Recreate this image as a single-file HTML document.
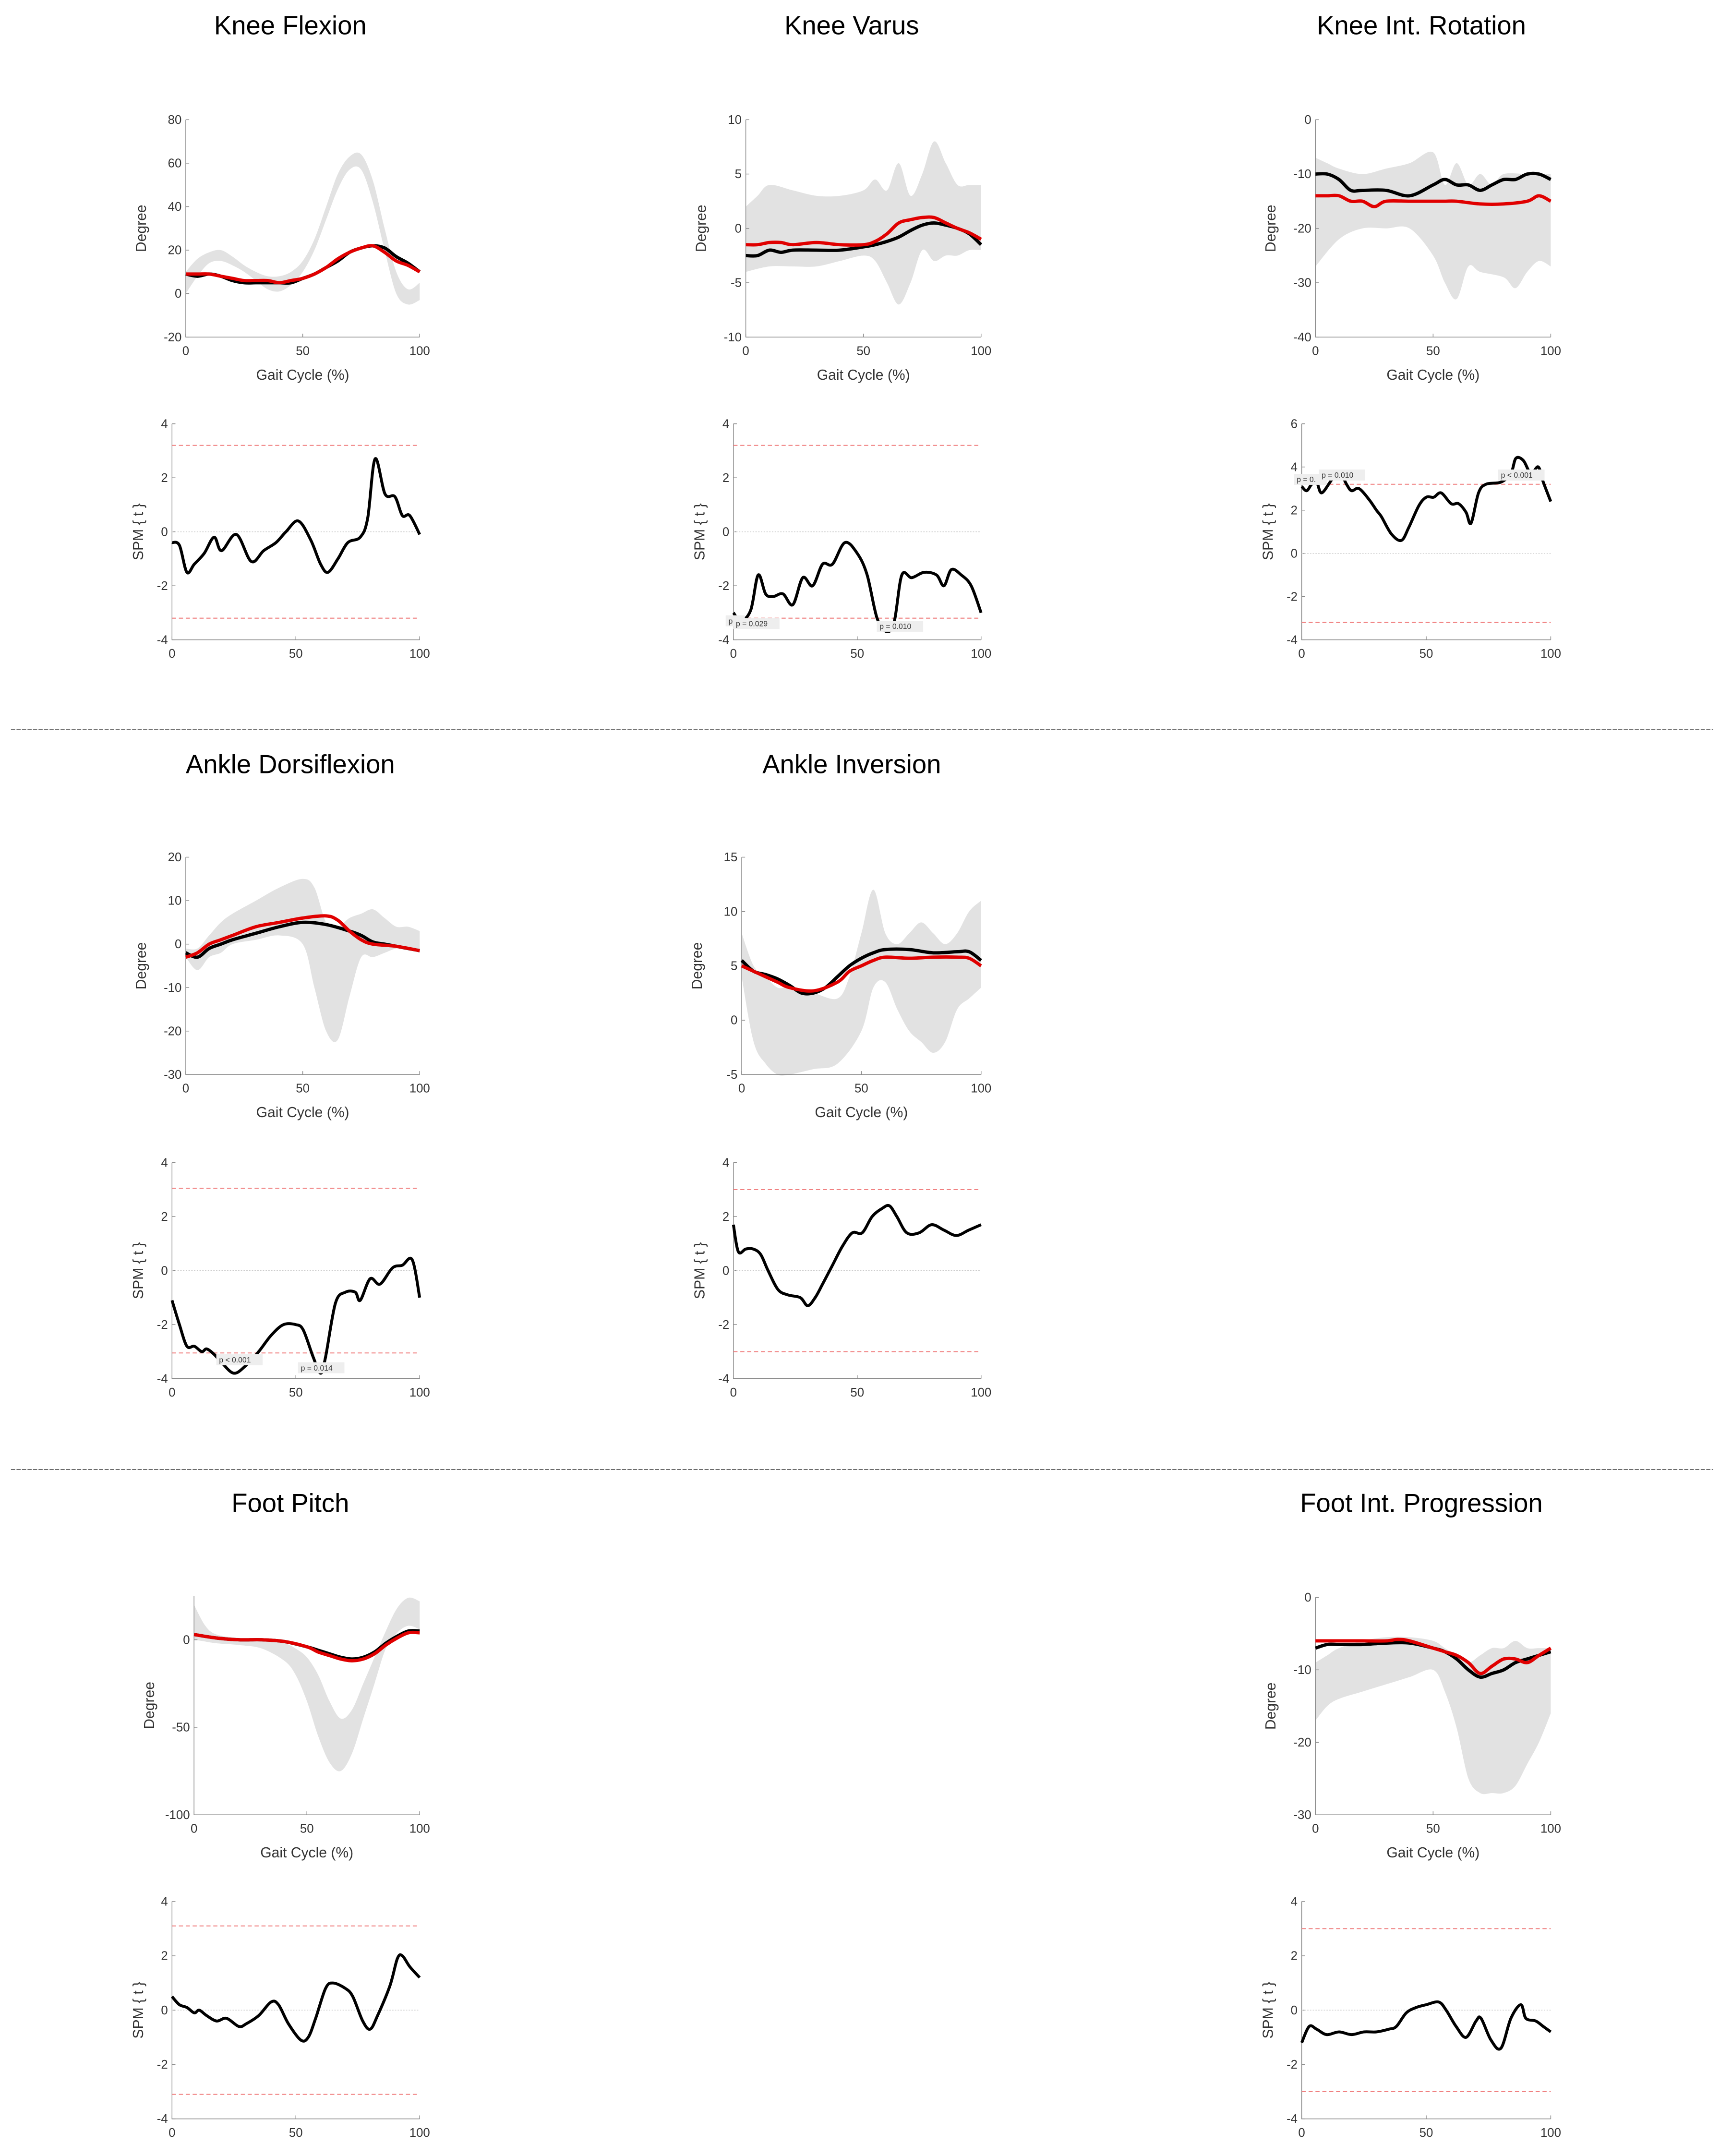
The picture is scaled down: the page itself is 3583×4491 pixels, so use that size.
<!DOCTYPE html>
<html><head><meta charset="utf-8"><style>
html,body{margin:0;padding:0;background:#fff;}
svg{display:block;font-family:"Liberation Sans",sans-serif;}
</style></head><body>
<svg id="fig" width="3583" height="4491" viewBox="0 0 1250 1567" preserveAspectRatio="none" xmlns="http://www.w3.org/2000/svg">
<line x1="8" y1="530" x2="1245" y2="530" stroke="#555" stroke-width="0.6" stroke-dasharray="3,1"/>
<line x1="8" y1="1068" x2="1245" y2="1068" stroke="#555" stroke-width="0.6" stroke-dasharray="3,1"/>
</svg>
<script>
// ---- data ----
const kfUpper=[[0,10],[5,16],[10,19],[15,20],[20,17],[25,13],[30,10],[35,8],[40,8],[45,10],[50,15],[55,25],[60,40],[65,55],[70,63],[75,64],[80,52],[85,30],[90,10],[95,2],[100,5]];
const kfLower=[[0,0],[5,8],[10,14],[15,15],[20,13],[25,10],[30,6],[35,2],[40,1],[45,4],[50,10],[55,20],[60,34],[65,48],[70,57],[75,57],[80,42],[85,20],[90,0],[95,-5],[100,-3]];
const kfBlack=[[0,9],[5,8],[10,9],[15,8],[20,6],[25,5],[30,5],[35,5],[40,5],[45,5],[50,7],[55,9],[60,12],[65,15],[70,19],[75,21],[80,22],[85,21],[90,17],[95,14],[100,10]];
const kfRed=[[0,9],[5,9],[10,9],[15,8],[20,7],[25,6],[30,6],[35,6],[40,5],[45,6],[50,7],[55,9],[60,12],[65,16],[70,19],[75,21],[80,22],[85,19],[90,15],[95,13],[100,10]];
const kfSpm=[[0,-0.4],[3,-0.5],[6,-1.5],[9,-1.2],[13,-0.8],[17,-0.2],[20,-0.7],[26,-0.1],[32,-1.1],[37,-0.7],[42,-0.4],[46,0],[51,0.4],[56,-0.3],[60,-1.2],[63,-1.5],[67,-1.0],[71,-0.4],[76,-0.2],[79,0.5],[82,2.7],[86,1.4],[90,1.3],[93,0.6],[96,0.6],[100,-0.1]];
const kvUpper=[[0,2],[5,3],[10,4],[20,3.5],[30,3],[40,3],[50,3.5],[55,4.5],[60,3.5],[65,6],[70,3],[75,5],[80,8],[85,6],[90,4],[95,4],[100,4]];
const kvLower=[[0,-4],[10,-3.5],[20,-3.5],[30,-3.5],[40,-3],[50,-2.5],[55,-3],[60,-5],[65,-7],[70,-5],[75,-2],[80,-3],[85,-2.5],[90,-2.5],[95,-2],[100,-2]];
const kvBlack=[[0,-2.5],[5,-2.5],[10,-2],[15,-2.2],[20,-2],[30,-2],[40,-2],[50,-1.7],[55,-1.5],[60,-1.2],[65,-0.8],[70,-0.2],[75,0.3],[80,0.5],[85,0.3],[90,0],[95,-0.5],[100,-1.5]];
const kvRed=[[0,-1.5],[5,-1.5],[10,-1.3],[15,-1.3],[20,-1.5],[30,-1.3],[40,-1.5],[50,-1.5],[55,-1.2],[60,-0.5],[65,0.5],[70,0.8],[75,1],[80,1],[85,0.5],[90,0],[95,-0.4],[100,-1]];
const kvSpm=[[0,-3],[3,-3.3],[7,-2.9],[10,-1.6],[13,-2.3],[16,-2.4],[20,-2.3],[24,-2.7],[28,-1.7],[32,-2.0],[36,-1.2],[40,-1.2],[45,-0.4],[50,-0.8],[54,-1.6],[58,-3.2],[62,-3.7],[65,-3.3],[68,-1.6],[72,-1.7],[77,-1.5],[82,-1.6],[85,-2.0],[88,-1.4],[92,-1.6],[96,-2.0],[100,-3.0]];
const krUpper=[[0,-7],[5,-8],[10,-9],[20,-10],[30,-9],[40,-8],[50,-6],[55,-12],[60,-8],[65,-12],[70,-10],[75,-12],[80,-10],[90,-10],[100,-10]];
const krLower=[[0,-27],[10,-22],[20,-20],[30,-20],[40,-20],[50,-25],[55,-30],[60,-33],[65,-27],[70,-28],[80,-29],[85,-31],[90,-28],[95,-26],[100,-27]];
const krBlack=[[0,-10],[5,-10],[10,-11],[15,-13],[20,-13],[30,-13],[40,-14],[50,-12],[55,-11],[60,-12],[65,-12],[70,-13],[75,-12],[80,-11],[85,-11],[90,-10],[95,-10],[100,-11]];
const krRed=[[0,-14],[5,-14],[10,-14],[15,-15],[20,-15],[25,-16],[30,-15],[40,-15],[50,-15],[55,-15],[60,-15],[70,-15.5],[80,-15.5],[90,-15],[95,-14],[100,-15]];
const krSpm=[[0,3.1],[2,2.9],[4,3.2],[6,3.3],[8,2.8],[12,3.4],[15,3.8],[18,3.2],[20,2.9],[23,3.0],[27,2.5],[30,2.0],[32,1.7],[36,0.9],[40,0.6],[43,1.2],[47,2.2],[50,2.6],[53,2.6],[56,2.8],[60,2.3],[63,2.3],[66,1.9],[68,1.4],[71,2.8],[74,3.2],[80,3.3],[84,3.7],[86,4.4],[89,4.3],[92,3.7],[95,4.0],[97,3.3],[100,2.4]];
const adUpper=[[0,-1],[5,-1],[10,2],[15,5],[20,7],[30,10],[40,13],[50,15],[55,13],[60,5],[65,4],[70,6],[75,7],[80,8],[85,6],[90,4],[95,4],[100,3]];
const adLower=[[0,-3],[5,-6],[10,-3],[15,-2],[20,0],[30,1],[40,2],[50,0],[55,-10],[60,-20],[65,-22],[70,-12],[75,-3],[80,-3],[85,-2],[90,-1],[95,-1],[100,-2]];
const adBlack=[[0,-2],[5,-3],[10,-1],[15,0],[20,1],[30,2.5],[40,4],[50,5],[60,4.5],[70,3],[75,2],[80,0.5],[85,0],[90,-0.5],[95,-1],[100,-1.5]];
const adRed=[[0,-3],[5,-2],[10,0],[15,1],[20,2],[30,4],[40,5],[50,6],[60,6.5],[65,5.5],[70,3],[75,1],[80,0],[90,-0.5],[100,-1.5]];
const adSpm=[[0,-1.1],[3,-2.0],[6,-2.8],[9,-2.8],[12,-3.0],[14,-2.9],[17,-3.1],[20,-3.4],[25,-3.8],[30,-3.5],[35,-3],[40,-2.4],[45,-2],[50,-2],[53,-2.2],[57,-3.2],[60,-3.8],[62,-3.2],[66,-1.2],[70,-0.8],[74,-0.8],[76,-1.1],[80,-0.3],[84,-0.5],[89,0.1],[93,0.2],[97,0.4],[100,-1.0]];
const aiUpper=[[0,8],[5,5],[10,4],[15,3],[20,3],[30,2.5],[40,2],[45,4],[50,8],[55,12],[60,8],[65,7],[70,8],[75,9],[80,8],[85,7],[90,8],[95,10],[100,11]];
const aiLower=[[0,4],[5,-2],[10,-4],[15,-5],[20,-5],[30,-4.5],[40,-4],[50,-1],[55,3],[60,3.5],[65,1],[70,-1],[75,-2],[80,-3],[85,-2],[90,1],[95,2],[100,3]];
const aiBlack=[[0,5.5],[5,4.5],[10,4.2],[15,3.8],[20,3.2],[25,2.5],[30,2.5],[35,3],[40,4],[45,5],[50,5.7],[55,6.2],[60,6.5],[70,6.5],[80,6.2],[90,6.3],[95,6.3],[100,5.5]];
const aiRed=[[0,5],[5,4.5],[10,4],[15,3.5],[20,3],[30,2.7],[40,3.5],[45,4.5],[50,5],[55,5.5],[60,5.8],[70,5.7],[80,5.8],[90,5.8],[95,5.7],[100,5]];
const aiSpm=[[0,1.7],[2,0.7],[5,0.8],[8,0.8],[11,0.6],[14,0.0],[18,-0.7],[22,-0.9],[27,-1.0],[30,-1.3],[33,-1.0],[36,-0.5],[40,0.2],[44,0.9],[48,1.4],[52,1.4],[56,2.0],[60,2.3],[63,2.4],[66,2.0],[70,1.4],[75,1.4],[80,1.7],[85,1.5],[90,1.3],[95,1.5],[100,1.7]];
const fpUpper=[[0,20],[5,8],[10,3],[20,1],[30,0],[40,-2],[45,-5],[50,-10],[55,-20],[60,-35],[65,-45],[70,-40],[75,-25],[80,-10],[85,5],[90,18],[95,24],[100,22]];
const fpLower=[[0,0],[5,-1],[10,-2],[20,-3],[30,-5],[40,-12],[45,-20],[50,-35],[55,-55],[60,-70],[65,-75],[70,-65],[75,-45],[80,-25],[85,-5],[90,4],[95,8],[100,6]];
const fpBlack=[[0,3],[10,1],[20,0],[30,0],[40,-1],[50,-4],[55,-6],[60,-8],[65,-10],[70,-11],[75,-10],[80,-7],[85,-2],[90,2],[95,5],[100,5]];
const fpRed=[[0,3],[10,1],[20,0],[30,0],[40,-1],[50,-4],[55,-7],[60,-9],[65,-11],[70,-12],[75,-11],[80,-8],[85,-3],[90,1],[95,4],[100,4]];
const fpSpm=[[0,0.5],[3,0.2],[6,0.1],[9,-0.1],[11,0],[14,-0.2],[18,-0.4],[22,-0.3],[27,-0.6],[30,-0.5],[35,-0.2],[40,0.3],[43,0.2],[47,-0.5],[52,-1.1],[55,-1.0],[58,-0.3],[62,0.8],[65,1.0],[70,0.8],[73,0.5],[77,-0.4],[80,-0.7],[83,-0.2],[88,0.9],[91,1.9],[93,2.0],[96,1.6],[100,1.2]];
const fgUpper=[[0,-9],[5,-8],[10,-7],[20,-6],[30,-5.5],[40,-5.5],[50,-6],[55,-7],[60,-8],[65,-9],[70,-8],[75,-7],[80,-7],[85,-6],[90,-7],[95,-7],[100,-7]];
const fgLower=[[0,-17],[5,-15],[10,-14],[20,-13],[30,-12],[40,-11],[50,-10],[55,-13],[60,-18],[65,-25],[70,-27],[75,-27],[80,-27],[85,-26],[90,-23],[95,-20],[100,-16]];
const fgBlack=[[0,-7],[5,-6.5],[10,-6.5],[20,-6.5],[30,-6.3],[40,-6.3],[50,-7],[55,-7.5],[60,-8.5],[65,-10],[70,-11],[75,-10.5],[80,-10],[85,-9],[90,-8.5],[95,-8],[100,-7.5]];
const fgRed=[[0,-6],[5,-6],[10,-6],[20,-6],[30,-6],[35,-5.8],[40,-6],[50,-7],[55,-7.5],[60,-8],[65,-9],[70,-10.5],[75,-9.5],[80,-8.5],[85,-8.5],[90,-9],[95,-8],[100,-7]];
const fgSpm=[[0,-1.2],[3,-0.6],[6,-0.7],[10,-0.9],[15,-0.8],[20,-0.9],[25,-0.8],[30,-0.8],[35,-0.7],[38,-0.6],[42,-0.1],[46,0.1],[50,0.2],[55,0.3],[58,0],[62,-0.6],[66,-1.0],[70,-0.4],[72,-0.3],[76,-1.1],[80,-1.4],[84,-0.3],[88,0.2],[90,-0.3],[94,-0.4],[97,-0.6],[100,-0.8]];
const xTicks=[0,50,100];
const spmTicks=[-4,-2,0,2,4];
const spmTicksRot=[-4,-2,0,2,4,6];
const titles=["Knee Flexion","Knee Varus","Knee Int. Rotation","Ankle Dorsiflexion","Ankle Inversion","Foot Pitch","Foot Int. Progression"];

const NS="http://www.w3.org/2000/svg";
const svg=document.getElementById('fig');
function mk(tag,attrs,parent){const e=document.createElementNS(NS,tag);for(const k in attrs)e.setAttribute(k,attrs[k]);(parent||svg).appendChild(e);return e;}
function smooth(pts){let d='M'+pts[0][0].toFixed(2)+','+pts[0][1].toFixed(2);for(let i=0;i<pts.length-1;i++){const p0=pts[Math.max(i-1,0)],p1=pts[i],p2=pts[i+1],p3=pts[Math.min(i+2,pts.length-1)];const c1=[p1[0]+(p2[0]-p0[0])/6,p1[1]+(p2[1]-p0[1])/6],c2=[p2[0]-(p3[0]-p1[0])/6,p2[1]-(p3[1]-p1[1])/6];d+='C'+c1[0].toFixed(2)+','+c1[1].toFixed(2)+' '+c2[0].toFixed(2)+','+c2[1].toFixed(2)+' '+p2[0].toFixed(2)+','+p2[1].toFixed(2);}return d;}
function smoothRev(pts){return smooth(pts.slice().reverse()).replace(/^M/,'L');}

function axes(g,x0,x1,y0,y1,ymin,ymax,yt,xlab,ylab,name){
  const sx=v=>x0+(v-0)/100*(x1-x0), sy=v=>y1-(v-ymin)/(ymax-ymin)*(y1-y0);
  const ax=mk('path',{d:`M${x0},${y0}V${y1}H${x1}`,fill:'none',stroke:'#888','stroke-width':0.5},g);
  
  yt.forEach(v=>{mk('line',{x1:x0,x2:x0+2.5,y1:sy(v),y2:sy(v),stroke:'#888','stroke-width':0.5},g);
    const t=mk('text',{x:x0-3,y:sy(v)+3,'font-size':9,'text-anchor':'end',fill:'#333'},g);t.textContent=v;
    });
  xTicks.forEach(v=>{mk('line',{x1:sx(v),x2:sx(v),y1:y1,y2:y1-2.5,stroke:'#888','stroke-width':0.5},g);
    const t=mk('text',{x:sx(v),y:y1+13,'font-size':9,'text-anchor':'middle',fill:'#333'},g);t.textContent=v;
    });
  if(xlab){const t=mk('text',{x:(x0+x1)/2,y:y1+31,'font-size':10.5,'text-anchor':'middle',fill:'#333'},g);t.textContent=xlab;
    }
  const yl=ylab==='Degree'?x0-29:x0-21;
  const t=mk('text',{x:yl,y:(y0+y1)/2,'font-size':10.5,'text-anchor':'middle',fill:'#333',transform:`rotate(-90 ${yl} ${(y0+y1)/2})`},g);t.textContent=ylab;
  
  return [sx,sy];
}
function kin(name,x0,x1,y0,y1,ymin,ymax,yt,up,lo,bl,rd){
  const g=mk('g',{});
  const [sx,sy]=axes(g,x0,x1,y0,y1,ymin,ymax,yt,'Gait Cycle (%)','Degree',name);
  const m=a=>a.map(p=>[sx(p[0]),sy(p[1])]);
  const band=mk('path',{d:smooth(m(up))+smoothRev(m(lo))+'Z',fill:'#e2e2e2',stroke:'none'},g);
  
  g.insertBefore(band,g.firstChild);
  const b=mk('path',{d:smooth(m(bl)),fill:'none',stroke:'#000','stroke-width':2.4},g);
  
  const r=mk('path',{d:smooth(m(rd)),fill:'none',stroke:'#e00000','stroke-width':2.4},g);
  
}
function spm(name,x0,x1,y0,y1,ymin,ymax,yt,data,thr,labels){
  const g=mk('g',{});
  const [sx,sy]=axes(g,x0,x1,y0,y1,ymin,ymax,yt,null,'SPM { t }',name);
  mk('line',{x1:x0,x2:x1,y1:sy(0),y2:sy(0),stroke:'#ccc','stroke-width':0.5,'stroke-dasharray':'1,1'},g);
  [thr,-thr].forEach(v=>{const l=mk('line',{x1:x0,x2:x1,y1:sy(v),y2:sy(v),stroke:'#f08080','stroke-width':0.7,'stroke-dasharray':'3,2'},g);
    });
  const c=mk('path',{d:smooth(data.map(p=>[sx(p[0]),sy(p[1])])),fill:'none',stroke:'#000','stroke-width':2.1},g);
  
  (labels||[]).forEach(L=>{const bx=mk('rect',{x:sx(L[0])-2,y:sy(L[1])-6,width:L[2].length*3.3+4,height:8,fill:'#eee'},g);
    const t=mk('text',{x:sx(L[0]),y:sy(L[1]),'font-size':5.5,fill:'#333'},g);t.textContent=L[2];
    });
}
function title(txt,cx,y){const t=mk('text',{x:cx,y:y,'font-size':19,'text-anchor':'middle',fill:'#000'});t.textContent=txt;
  }

title(titles[0],211,25);title(titles[1],619,25);title(titles[2],1033,25);
kin('knee-flexion',135,305,87,245,-20,80,[-20,0,20,40,60,80],kfUpper,kfLower,kfBlack,kfRed);
kin('knee-varus',542,713,87,245,-10,10,[-10,-5,0,5,10],kvUpper,kvLower,kvBlack,kvRed);
kin('knee-rotation',956,1127,87,245,-40,0,[-40,-30,-20,-10,0],krUpper,krLower,krBlack,krRed);
spm('knee-flexion',125,305,308,465,-4,4,spmTicks,kfSpm,3.2);
spm('knee-varus',533,713,308,465,-4,4,spmTicks,kvSpm,3.2,[[-2,-3.4,'p ='],[1,-3.5,'p = 0.029'],[59,-3.6,'p = 0.010']]);
spm('knee-rotation',946,1127,308,465,-4,6,spmTicksRot,krSpm,3.2,[[-2,3.3,'p = 0.'],[8,3.5,'p = 0.010'],[80,3.5,'p < 0.001']]);

title(titles[3],211,562);title(titles[4],619,562);
kin('ankle-dorsiflexion',135,305,623,781,-30,20,[-30,-20,-10,0,10,20],adUpper,adLower,adBlack,adRed);
kin('ankle-inversion',539,713,623,781,-5,15,[-5,0,5,10,15],aiUpper,aiLower,aiBlack,aiRed);
spm('ankle-dorsiflexion',125,305,845,1002,-4,4,spmTicks,adSpm,3.05,[[19,-3.4,'p < 0.001'],[52,-3.7,'p = 0.014']]);
spm('ankle-inversion',533,713,845,1002,-4,4,spmTicks,aiSpm,3.0);

title(titles[5],211,1099);title(titles[6],1033,1099);
kin('foot-pitch',141,305,1160,1319,-100,25,[-100,-50,0],fpUpper,fpLower,fpBlack,fpRed);
kin('foot-progression',956,1127,1161,1319,-30,0,[-30,-20,-10,0],fgUpper,fgLower,fgBlack,fgRed);
spm('foot-pitch',125,305,1382,1540,-4,4,spmTicks,fpSpm,3.1);
spm('foot-progression',946,1127,1382,1540,-4,4,spmTicks,fgSpm,3.0);
</script>
</body></html>
